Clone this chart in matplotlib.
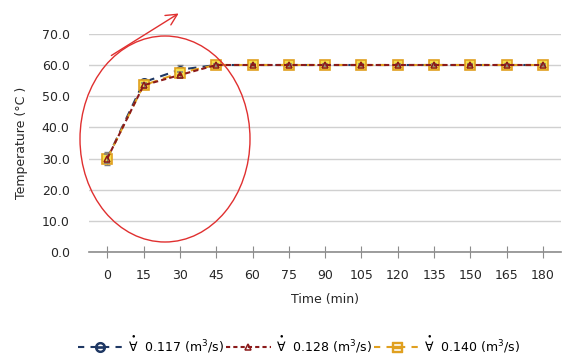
import matplotlib.pyplot as plt
from matplotlib.patches import Ellipse, FancyArrowPatch
from matplotlib.lines import Line2D
import numpy as np

time_labels = ['0', '15', '30', '45', '60', '75', '90', '105', '120', '135', '150', '165', '180']

temp_117 = [30.0, 54.5, 58.5, 60.0, 60.0, 60.0, 60.0, 60.0, 60.0, 60.0, 60.0, 60.0, 60.0]
temp_128 = [30.0, 53.5, 56.8, 60.0, 60.0, 60.0, 60.0, 60.0, 60.0, 60.0, 60.0, 60.0, 60.0]
temp_140 = [30.0, 53.5, 57.5, 60.0, 60.0, 60.0, 60.0, 60.0, 60.0, 60.0, 60.0, 60.0, 60.0]
err_117 = [2.0, 1.0, 1.5, 0.3, 0.3, 0.3, 0.3, 0.3, 0.3, 0.3, 0.3, 0.3, 0.3]
err_128 = [1.5, 0.8, 1.0, 0.3, 0.3, 0.3, 0.3, 0.3, 0.3, 0.3, 0.3, 0.3, 0.3]
err_140 = [1.5, 0.8, 1.2, 0.3, 0.3, 0.3, 0.3, 0.3, 0.3, 0.3, 0.3, 0.3, 0.3]
labels = [r'$\overset{\bullet}{\forall}$  0.117 (m$^3$/s)', r'$\overset{\bullet}{\forall}$  0.128 (m$^3$/s)',
          r'$\overset{\bullet}{\forall}$  0.140 (m$^3$/s)']

c_blue, c_red, c_orange = '#1f3864', '#8b1a1a', '#e0a020'

fig = plt.figure(figsize=(5.64, 3.6), dpi=100)
ax = fig.add_axes([0.158, 0.30, 0.837, 0.606])

x = np.arange(len(time_labels))

ax.errorbar(x, temp_117, yerr=err_117, color=c_blue, ecolor='#7f7f7f', elinewidth=0.8, capsize=2,
            linestyle=(0, (4, 3)), linewidth=1.5, marker='o', markersize=5.5,
            markerfacecolor='#9fb6d6', markeredgecolor=c_blue, zorder=3)
ax.errorbar(x, temp_140, yerr=err_140, color=c_orange, ecolor='#7f7f7f', elinewidth=0.8, capsize=2,
            linestyle=(0, (4, 3)), linewidth=1.5, marker='s', markersize=6.5, markerfacecolor='#f5e04a',
            markeredgecolor=c_orange, markeredgewidth=1.2, zorder=4)
ax.errorbar(x, temp_128, yerr=err_128, color=c_red, ecolor='#7f7f7f', elinewidth=0.8, capsize=2,
            linestyle=(0, (2.5, 1.5)), linewidth=1.5, marker='^', markersize=4.5, markerfacecolor='none',
            markeredgecolor=c_red, markeredgewidth=1.1, zorder=5)

ax.set_xlim(-0.5, len(time_labels) - 0.5)
ax.set_ylim(0, 70)
ax.set_yticks(np.arange(0, 71, 10))
ax.set_yticklabels([f'{v:.1f}' for v in np.arange(0, 71, 10)], fontsize=9, color='#262626')
ax.set_xticks(x)
ax.set_xticklabels(time_labels, fontsize=9, color='#262626')
ax.tick_params(axis='x', direction='inout', length=8, color='#8c8c8c', pad=8)
ax.tick_params(axis='y', length=0, pad=14)
ax.grid(axis='y', color='#d0d0d0', linewidth=1.0)
ax.set_axisbelow(True)
for s in ['left', 'right', 'top']:
    ax.spines[s].set_visible(False)
ax.spines['bottom'].set_color('#8c8c8c')
ax.spines['bottom'].set_linewidth(1.2)

ax.set_xlabel('Time (min)', fontsize=9, color='#262626', labelpad=8)
ax.set_ylabel('Temperature (°C )', fontsize=9, color='#262626', labelpad=10)

handles = [
    Line2D([], [], color=c_blue, linestyle=(0, (3, 3)), linewidth=1.5, marker=r'$\ominus$',
           markersize=7),
    Line2D([], [], color=c_red, linestyle=(0, (2, 1.5)), linewidth=1.5, marker='^', markersize=5,
           markerfacecolor='none', markeredgewidth=1.1),
    Line2D([], [], color=c_orange, linestyle=(0, (3, 3)), linewidth=1.5, marker=r'$\boxminus$',
           markersize=7),
]
fig.legend(handles, labels, loc='center', bbox_to_anchor=(0.53, 0.045), ncol=3, frameon=False,
           fontsize=9, handlelength=3.6, columnspacing=0.2, handletextpad=0.4)

# red annotation circle and arrow (figure pixel coordinates)
W, H = 564, 360
ell = Ellipse((165 / W, 1 - 139 / H), 170 / W, 206 / H, transform=fig.transFigure,
              fill=False, edgecolor='#e03030', linewidth=1.0, zorder=10)
fig.patches.append(ell)
arr = FancyArrowPatch((109 / W, 1 - 57 / H), (181 / W, 1 - 12 / H), transform=fig.transFigure,
                      arrowstyle='->,head_length=8,head_width=4', color='#e03030', linewidth=1.0,
                      mutation_scale=1)
fig.patches.append(arr)

fig.savefig('out.png', dpi=100)
